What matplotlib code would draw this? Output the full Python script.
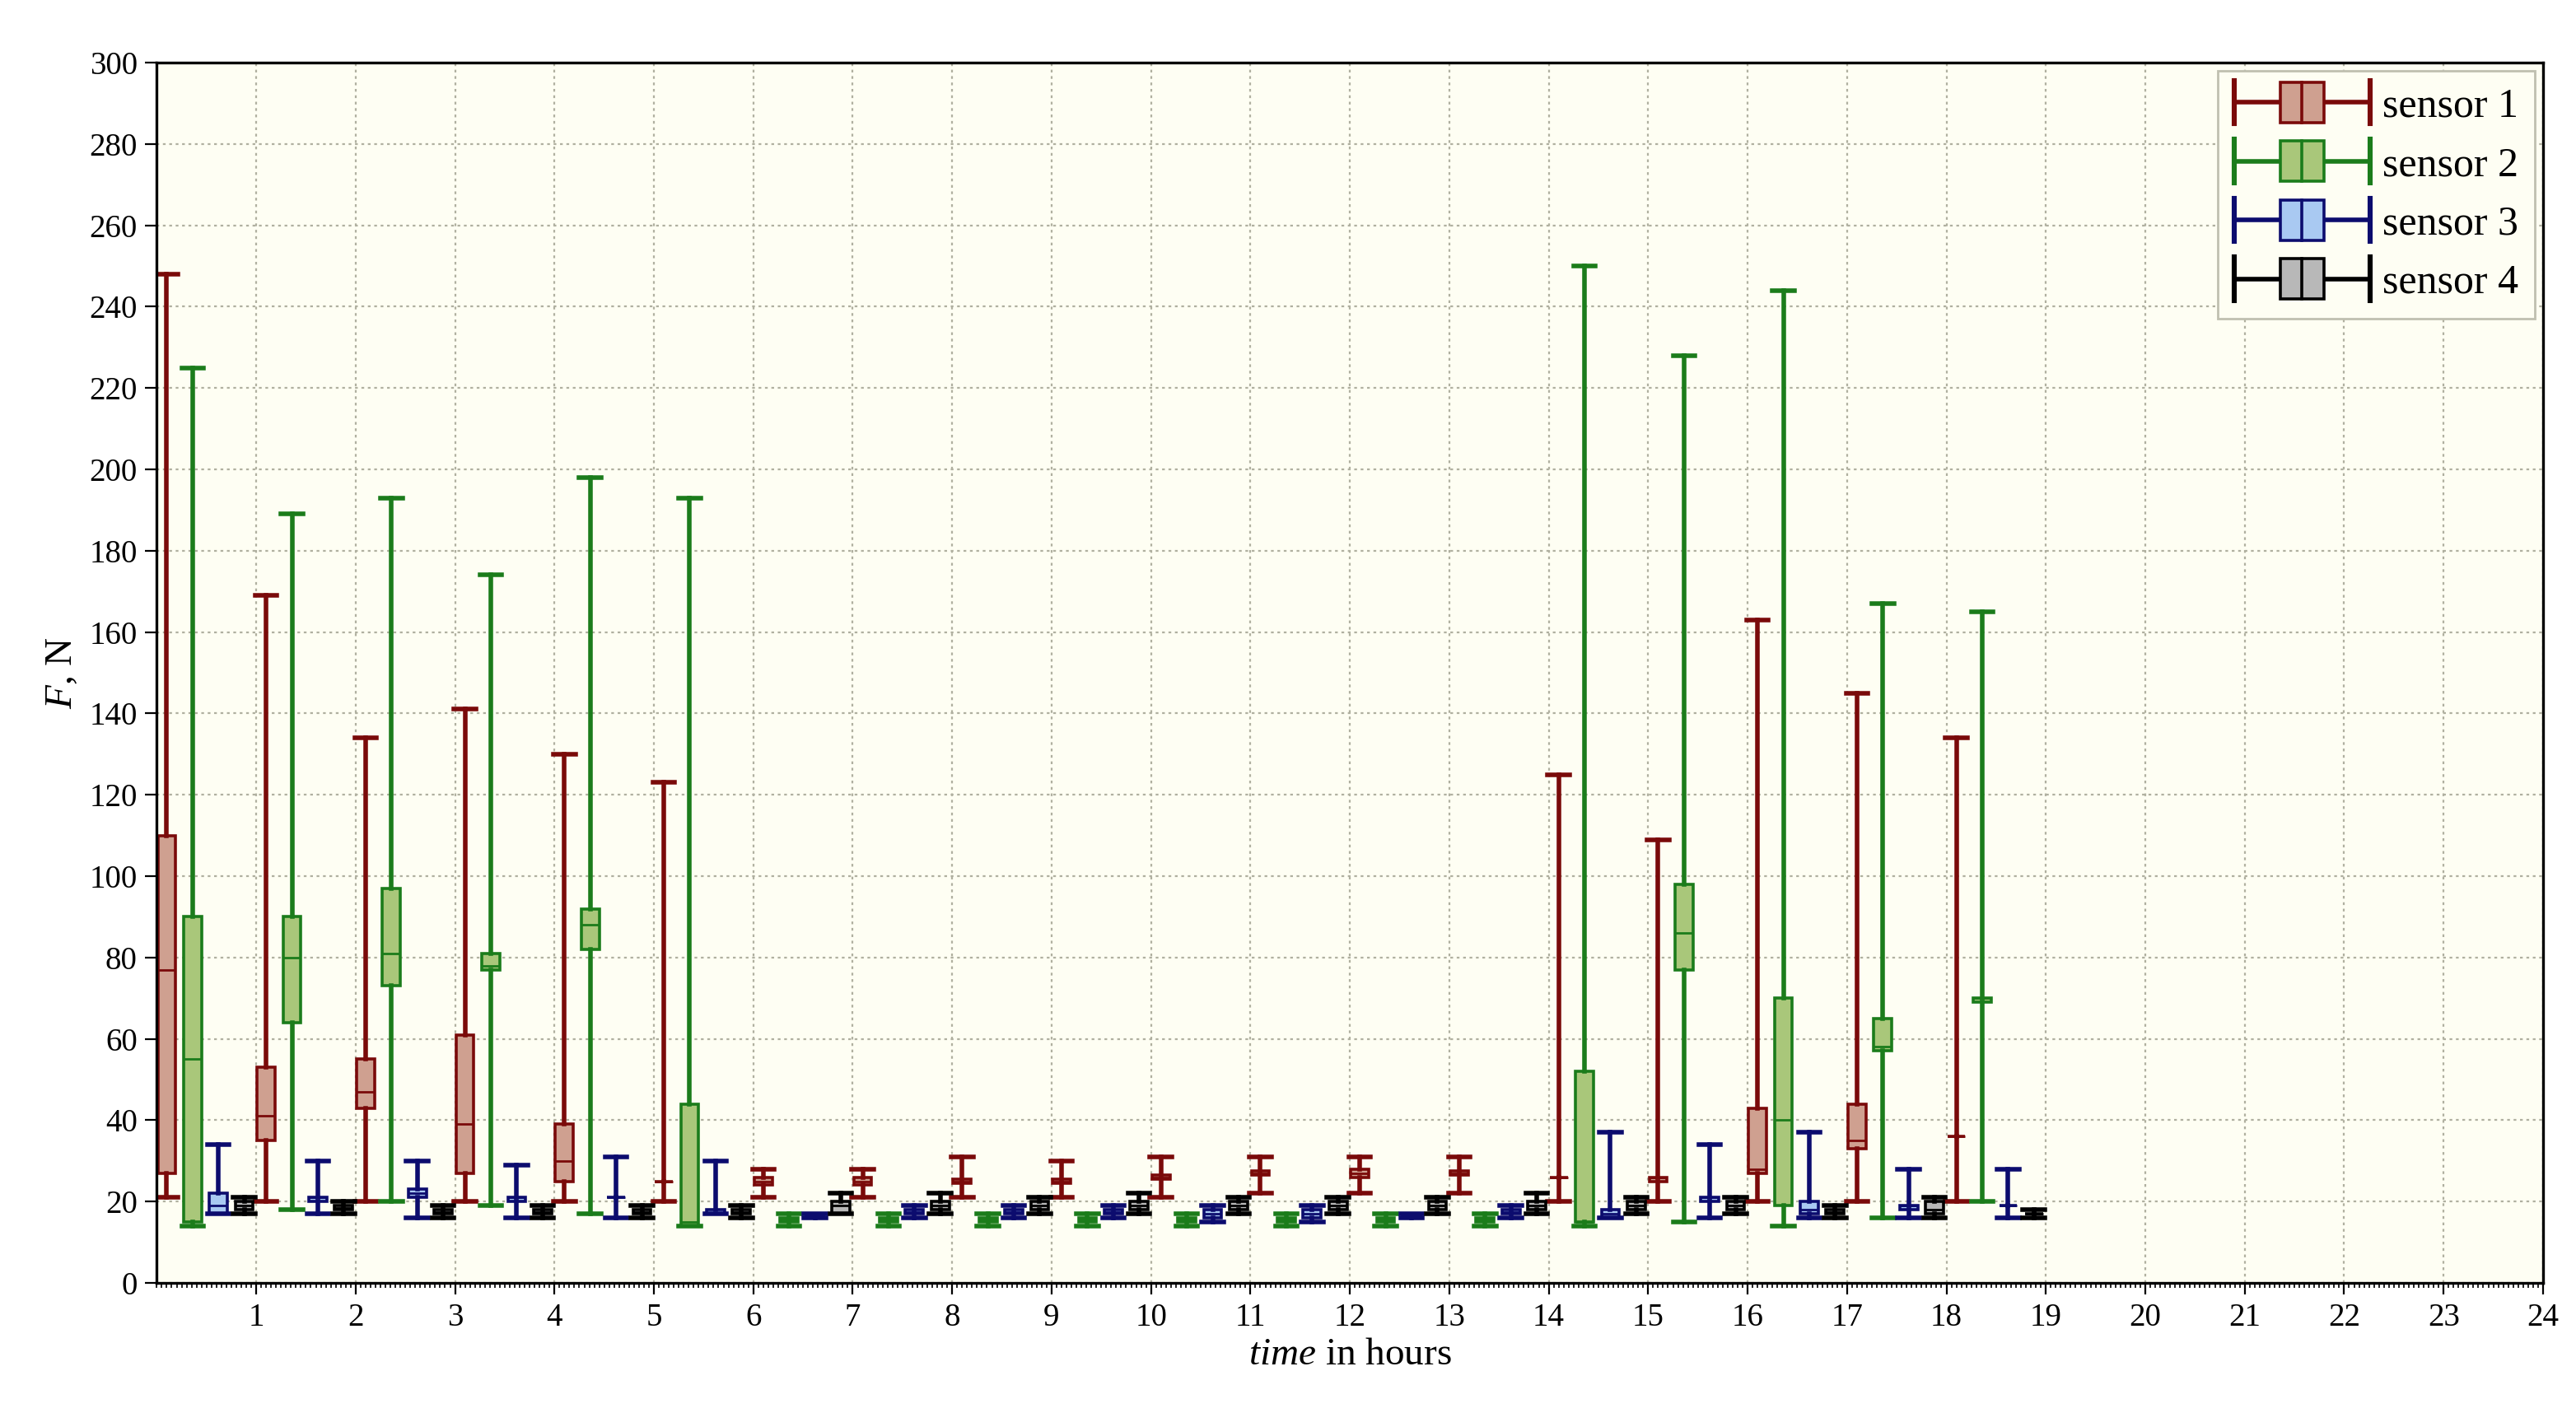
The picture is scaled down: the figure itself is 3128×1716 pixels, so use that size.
import numpy as np
import matplotlib.pyplot as plt
from matplotlib.legend_handler import HandlerBase
from matplotlib.lines import Line2D
from matplotlib.patches import Rectangle
from matplotlib.ticker import MultipleLocator

plt.rcParams["font.family"] = ["Liberation Serif", "DejaVu Serif"]
plt.rcParams["mathtext.fontset"] = "custom"
plt.rcParams["mathtext.rm"] = "Liberation Serif"
plt.rcParams["mathtext.it"] = "Liberation Serif:italic"

hours = list(range(19))
sensors = ["sensor 1", "sensor 2", "sensor 3", "sensor 4"]

# (low whisker, q1, median, q3, high whisker) per hour
s1 = [(21, 27, 77, 110, 248), (20, 35, 41, 53, 169), (20, 43, 47, 55, 134),
      (20, 27, 39, 61, 141), (20, 25, 30, 39, 130), (20, 25, 25, 25, 123),
      (21, 24, 25, 26, 28), (21, 24, 25, 26, 28), (21, 24.5, 25, 25.5, 31),
      (21, 24.5, 25, 25.5, 30), (21, 25.5, 26, 26.5, 31), (22, 26.5, 27, 27.5, 31),
      (22, 26, 27, 28, 31), (22, 26.5, 27, 27.5, 31), (20, 26, 26, 26, 125),
      (20, 25, 26, 26, 109), (20, 27, 28, 43, 163), (20, 33, 35, 44, 145),
      (20, 36, 36, 36, 134)]
s2 = [(14, 15, 55, 90, 225), (18, 64, 80, 90, 189), (20, 73, 81, 97, 193),
      (19, 77, 78, 81, 174), (17, 82, 88, 92, 198), (14, 14, 15, 44, 193),
      (14, 15, 15.5, 16, 17), (14, 15, 15.5, 16, 17), (14, 15, 15.5, 16, 17),
      (14, 15, 15.5, 16, 17), (14, 15, 15.5, 16, 17), (14, 15, 15.5, 16, 17),
      (14, 15, 15.5, 16, 17), (14, 15, 15.5, 16, 17), (14, 15, 15, 52, 250),
      (15, 77, 86, 98, 228), (14, 19, 40, 70, 244), (16, 57, 58, 65, 167),
      (20, 69, 70, 70, 165)]
s3 = [(17, 17, 19, 22, 34), (17, 20, 21, 21, 30), (16, 21, 22, 23, 30),
      (16, 20, 21, 21, 29), (16, 21, 21, 21, 31), (17, 17, 17, 18, 30),
      (16, 16.5, 17, 17, 17), (16, 17, 17.5, 18, 19), (16, 17, 17.5, 18, 19),
      (16, 17, 17.5, 18, 19), (15, 16, 17, 18, 19), (15, 16, 17, 18, 19),
      (16, 16.5, 17, 17, 17), (16, 17, 17.5, 18, 19), (16, 16, 17, 18, 37),
      (16, 20, 21, 21, 34), (16, 17, 18, 20, 37), (16, 18, 19, 19, 28),
      (16, 19, 19, 19, 28)]
s4 = [(17, 18, 19, 20, 21), (17, 18, 18.5, 19, 20), (16, 17, 17.5, 18, 19),
      (16, 17, 17.5, 18, 19), (16, 17, 17.5, 18, 19), (16, 17, 17.5, 18, 19),
      (17, 17, 19, 20, 22), (17, 18, 19, 20, 22), (17, 18, 19, 20, 21),
      (17, 18, 19, 20, 22), (17, 18, 19, 20, 21), (17, 18, 19, 20, 21),
      (17, 18, 19, 20, 21), (17, 18, 19, 20, 22), (17, 18, 19, 20, 21),
      (17, 18, 19, 20, 21), (16, 17, 17.5, 18, 19), (16, 17, 18, 20, 21),
      (16, 17, 17, 17, 18)]

edge = ["#7a0a0a", "#1b7c1b", "#0c0c6e", "#000000"]
fill = ["#cfa090", "#a9c77a", "#a9c9f2", "#b8b8b8"]

fig = plt.figure(figsize=(15.64, 8.58), dpi=200)
ax = fig.add_axes([95 / 1561, 1 - 779 / 858, 1446 / 1561, 741 / 858])
ax.set_facecolor("#fefef3")

for k, data in enumerate([s1, s2, s3, s4]):
    stats = [dict(whislo=d[0], q1=d[1], med=d[2], q3=d[3], whishi=d[4], fliers=[])
             for d in data]
    pos = [h + 0.1 + 0.26 * k for h in hours]
    ax.bxp(stats, positions=pos, widths=0.18, patch_artist=True,
           manage_ticks=False, capwidths=0.22,
           boxprops=dict(facecolor=fill[k], edgecolor=edge[k], linewidth=1.3),
           whiskerprops=dict(color=edge[k], linewidth=2.0),
           capprops=dict(color=edge[k], linewidth=2.0),
           medianprops=dict(color=edge[k], linewidth=1.0))

ax.set_xlim(0, 24)
ax.set_ylim(0, 300)
ax.set_xticks(range(1, 25))
ax.xaxis.set_minor_locator(MultipleLocator(0.05))
ax.set_yticks(range(0, 301, 20))
ax.tick_params(axis="both", labelsize=14, direction="out", length=5)
ax.tick_params(axis="x", which="minor", length=2)
ax.grid(True, color="#b0b0a0", linestyle=(0, (1.5, 2)), linewidth=0.8)
ax.set_axisbelow(True)
for sp in ax.spines.values():
    sp.set_linewidth(1.2)
ax.set_xlabel(r"$\it{time}$ in hours", fontsize=17, labelpad=2)
ax.set_ylabel(r"$F$, N", fontsize=17, labelpad=4)


class BoxHandler(HandlerBase):
    def __init__(self, ec, fc):
        super().__init__()
        self.ec, self.fc = ec, fc

    def create_artists(self, legend, orig, x0, y0, w, h, fontsize, trans):
        cy = y0 + h / 2
        arts = [Line2D([x0, x0 + w], [cy, cy], color=self.ec, lw=2),
                Line2D([x0, x0], [y0 - 0.25 * h, y0 + 1.25 * h], color=self.ec, lw=2.2),
                Line2D([x0 + w, x0 + w], [y0 - 0.25 * h, y0 + 1.25 * h], color=self.ec, lw=2.2),
                Rectangle((x0 + 0.34 * w, y0 - 0.2 * h), 0.32 * w, 1.4 * h,
                          facecolor=self.fc, edgecolor=self.ec, lw=1.3),
                Line2D([x0 + 0.5 * w, x0 + 0.5 * w], [y0 - 0.2 * h, y0 + 1.2 * h],
                       color=self.ec, lw=1.3)]
        for a in arts:
            a.set_transform(trans)
        return arts


handles = [Line2D([], []) for _ in sensors]
leg = ax.legend(handles, sensors, loc="upper right", fontsize=18,
                handler_map={h: BoxHandler(edge[i], fill[i]) for i, h in enumerate(handles)},
                handlelength=3.3, handletextpad=0.3, labelspacing=0.5,
                fancybox=False, edgecolor="#c0c0b0", framealpha=1,
                facecolor="#fefef3", borderaxespad=0.2)

fig.savefig("out.png", dpi=200, facecolor="white")
